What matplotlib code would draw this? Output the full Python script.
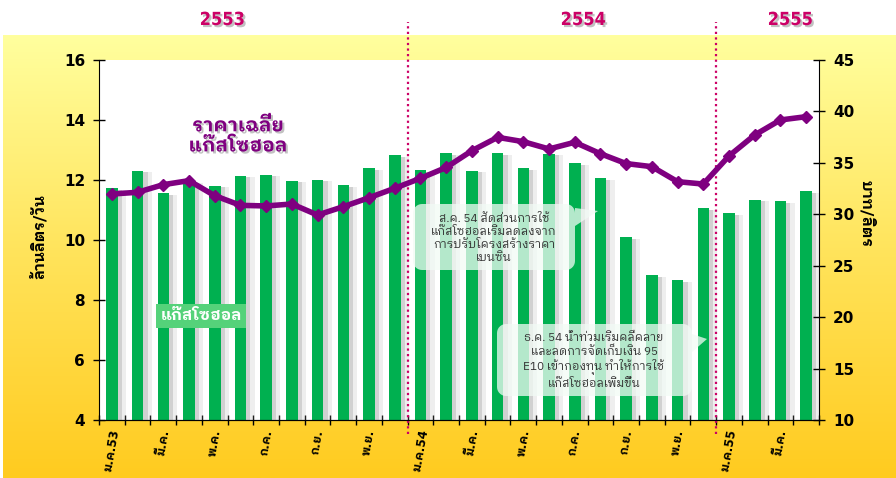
import numpy as np
import matplotlib
matplotlib.use('Agg')
import matplotlib.pyplot as plt
import matplotlib.patheffects as pe
from matplotlib.patches import Polygon
from matplotlib.colors import LinearSegmentedColormap

plt.rcParams['font.family'] = ['DejaVu Sans', 'IBM Plex Sans Thai Looped']
thai = ['IBM Plex Sans Thai Looped', 'DejaVu Sans']

# monthly data, Jan 2010 (2553) .. Apr 2012 (2555)
volume = [11.72, 12.30, 11.56, 11.95, 11.80, 12.13, 12.17, 11.97, 12.00, 11.82,
          12.39, 12.82, 12.32, 12.89, 12.30, 12.89, 12.39, 12.87, 12.56, 12.06,
          10.09, 8.82, 8.66, 11.06, 10.89, 11.33, 11.29, 11.62]
price = [31.97, 32.14, 32.88, 33.27, 31.81, 30.87, 30.81, 31.00, 29.93, 30.74,
         31.61, 32.53, 33.50, 34.55, 36.18, 37.48, 37.06, 36.35, 37.00, 35.89,
         34.93, 34.63, 33.17, 32.94, 35.67, 37.71, 39.17, 39.49]
month_labels = ['ม.ค.53', 'มี.ค.', 'พ.ค.', 'ก.ค.', 'ก.ย.', 'พ.ย.',
                'ม.ค.54', 'มี.ค.', 'พ.ค.', 'ก.ค.', 'ก.ย.', 'พ.ย.',
                'ม.ค.55', 'มี.ค.']
years = ['2553', '2554', '2555']
year_breaks = [11.5, 23.5]  # between Dec and Jan

note1 = 'ส.ค. 54 สัดส่วนการใช้\nแก๊สโซฮอลเริ่มลดลงจาก\nการปรับโครงสร้างราคา\nเบนซิน'
note2 = 'ธ.ค. 54 น้ำท่วมเริ่มคลี่คลาย\nและลดการจัดเก็บเงิน 95\nE10 เข้ากองทุน ทำให้การใช้\nแก๊สโซฮอลเพิ่มขึ้น'

W, H = 896, 478
fig = plt.figure(figsize=(W / 100, H / 100), dpi=100)

# yellow gradient background
bg = fig.add_axes([3 / W, 0, 1 - 3 / W, 443 / H])
cmap = LinearSegmentedColormap.from_list('bg', ['#FFCB1F', '#FFE35A', '#FFFF9E'])
bg.imshow(np.linspace(0, 1, 256).reshape(-1, 1), aspect='auto', cmap=cmap, origin='lower',
          extent=[0, 1, 0, 1])
bg.set_axis_off()

ax = fig.add_axes([99 / W, (H - 420) / H, 720 / W, 360 / H])
ax.set_facecolor('white')
ax2 = ax.twinx()

x = np.arange(len(volume))
ax.bar(x, volume, width=0.45, color='#00B050', zorder=2,
       path_effects=[pe.SimplePatchShadow(offset=(3, -1), shadow_rgbFace='#888888', alpha=0.3),
                     pe.SimplePatchShadow(offset=(6, -1), shadow_rgbFace='#aaaaaa', alpha=0.2),
                     pe.Normal()])
ax.set_xlim(-0.5, len(volume) - 0.5)
ax.set_ylim(4, 16)
ax.set_yticks(range(4, 17, 2))

ax2.plot(x, price, color='#7F0080', lw=4, marker='D', markersize=6.5, zorder=5, clip_on=False)
ax2.set_ylim(10, 45)
ax2.set_yticks(range(10, 46, 5))

# x ticks at month boundaries, labels every other month
ax.set_xticks(np.arange(-0.5, len(volume), 1))
ax.set_xticklabels([])
ax.set_xticks(np.arange(0, len(volume), 2), minor=True)
ax.set_xticklabels(month_labels, minor=True, rotation=80, ha='center', va='top',
                   fontsize=8.5, fontweight='bold')
ax.tick_params(axis='x', which='major', direction='inout', length=7, width=1)
ax.tick_params(axis='x', which='minor', length=0, pad=6)

ax.tick_params(axis='y', direction='inout', length=8, width=1, labelsize=11, pad=6)
ax2.tick_params(axis='y', direction='inout', length=8, width=1, labelsize=11, pad=6)
for lab in ax.get_yticklabels() + ax2.get_yticklabels():
    lab.set_fontweight('bold')

for a in (ax, ax2):
    a.spines['top'].set_visible(False)
ax2.spines['left'].set_visible(False)
ax.spines['right'].set_visible(False)

ax.set_ylabel('ล้านลิตร/วัน', fontsize=11, fontweight='bold', family=thai)
ax.yaxis.set_label_coords(-0.072, 0.51)
ax2.set_ylabel('บาท/ลิตร', fontsize=11, fontweight='bold', rotation=270, family=thai)
ax2.yaxis.set_label_coords(1.078, 0.575)

# year separators and year labels
for xb in year_breaks:
    ax.axvline(xb, ymin=-0.04, ymax=1.105, color='#CC0066', ls=(0, (1, 1.5)), lw=1.6,
               clip_on=False, zorder=6)
shadow = [pe.withSimplePatchShadow(offset=(1.5, -1.5), shadow_rgbFace='#999999', alpha=0.6)]
for yr, xp in zip(years, [222, 583, 790]):
    fig.text(xp / W, 1 - 20 / H, yr, color='#CC0066', fontsize=13, fontweight='bold',
             fontstretch='condensed', ha='center', va='center',
             family=['DejaVu Sans'], path_effects=shadow)

fig.text(238 / W, 1 - 136 / H, 'ราคาเฉลี่ย\nแก๊สโซฮอล', color='#7F0080', fontsize=14,
         fontweight='bold', ha='center', va='center', linespacing=1.15,
         family=thai, path_effects=shadow)

# legend-like tag for the bars
fig.text(201 / W, 1 - 316 / H, 'แก๊สโซฮอล', color='white', fontsize=11.5, fontweight='bold',
         ha='center', va='center', family=thai,
         bbox=dict(boxstyle='square,pad=0.3', fc='#55D27A', ec='none'))


def callout(x0, y0, x1, y1, wedge, r=9):
    # rounded box (pixel coords, y down) with a pointer on the right edge
    wy0, wy1, tx, ty = wedge
    pts = []
    for cx, cy, a0 in [(x1 - r, y0 + r, -90), (x1 - r, y1 - r, 0),
                       (x0 + r, y1 - r, 90), (x0 + r, y0 + r, 180)]:
        if a0 == 0:
            pts += [(x1, wy0), (tx, ty), (x1, wy1)]
        ang = np.radians(np.linspace(a0, a0 + 90, 8))
        pts += list(zip(cx + r * np.cos(ang), cy + r * np.sin(ang)))
    pts = [(px / W, 1 - py / H) for px, py in pts]
    fig.patches.append(Polygon(pts, closed=True, transform=fig.transFigure,
                               fc='#F2FBF5', ec='none', alpha=0.75, zorder=3))


callout(413, 204, 575, 270, (208, 226, 598, 211))
callout(497, 324, 692, 396, (334, 352, 707, 339))
fig.text(494 / W, 1 - 238 / H, note1, fontsize=8.5, color='#333333', ha='center', va='center',
         linespacing=1.25, family=thai, zorder=4)
fig.text(594 / W, 1 - 360 / H, note2, fontsize=8.5, color='#333333', ha='center', va='center',
         linespacing=1.25, family=thai, zorder=4)

fig.savefig('out.png', dpi=100)
